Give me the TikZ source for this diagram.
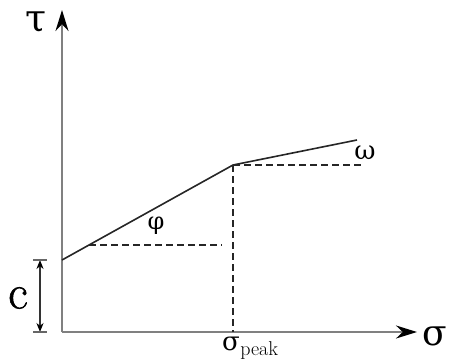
\documentclass[tikz,border=0pt]{standalone}
\usepackage{fontspec}
\newfontfamily\grk{DejaVu Serif}
\newfontfamily\cfnt[FakeBold=1.2]{Latin Modern Roman}
\usetikzlibrary{arrows.meta}
\begin{document}
\begin{tikzpicture}[x=1pt,y=-1pt,
  axis/.style={draw=black!50,line width=2pt},
  tip/.style={-{Stealth[length=21pt,width=13pt,color=black]}},
  curve/.style={draw=black!85,line width=1.6pt},
  guide/.style={draw=black!85,line width=1.5pt,dash pattern=on 7pt off 4pt},
  lab/.style={inner sep=0pt,text=black}]
\useasboundingbox (0,0) rectangle (451,362);
\coordinate (O) at (62,332);
\coordinate (ytip) at (62,10);
\coordinate (xtip) at (417,332);
\coordinate (C) at (62,260);
\coordinate (P) at (233,165);
\coordinate (E) at (357,140);
\coordinate (Pb) at (233,332);
\coordinate (Pr) at (363,165);
\coordinate (Ph) at (89,245);
\coordinate (Phr) at (222,245);
\coordinate (ct) at (40,260);
\coordinate (cb) at (40,332);
% axes
\draw[axis,tip] (O) -- (ytip);
\draw[axis,tip] (O) -- (xtip);
% envelope
\draw[curve] (C) -- (P) -- (E);
% guides
\draw[guide] (Ph) -- (Phr);
\draw[guide] (P) -- (Pr);
\draw[guide] (P) -- (Pb);
% c bracket
\draw[line width=1.5pt,black!80,{Stealth[length=9pt,width=7pt,color=black]}-{Stealth[length=9pt,width=7pt,color=black]}] (ct) -- (cb);
\draw[line width=1.5pt,black!60] ([xshift=-7pt]ct) -- ([xshift=7pt]ct);
\draw[line width=1.5pt,black!60] ([xshift=-7pt]cb) -- ([xshift=7pt]cb);
% labels
\node[lab,font=\grk\fontsize{38}{38}\selectfont] (tau) at (36,22) {τ};
\node[lab,font=\grk\fontsize{36}{36}\selectfont] (sig) at (435,336) {σ};
\node[lab,font=\cfnt\fontsize{48}{48}\selectfont] (c) at (18,298) {c};
\node[lab,font=\grk\fontsize{24}{24}\selectfont] (phi) at (156,226) {φ};
\node[lab,font=\grk\fontsize{26}{26}\selectfont] (om) at (365,153) {ω};
\node[lab,anchor=west,font=\grk\fontsize{26}{26}\selectfont] (sp) at (222,344) {σ};
\node[lab,anchor=base west,font=\fontsize{20}{20}\selectfont] (spk) at ([yshift=-5pt]sp.base east) {peak};
\end{tikzpicture}
\end{document}
